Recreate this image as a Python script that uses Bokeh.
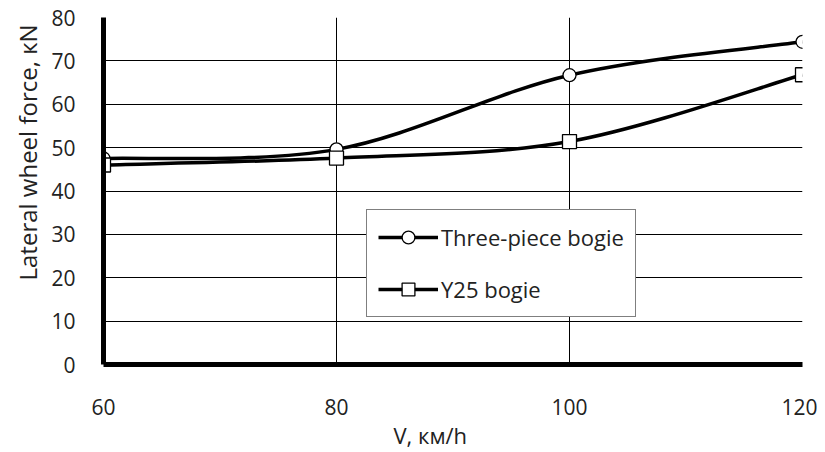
from bokeh.plotting import figure
from bokeh.models import Range1d, Legend, LegendItem, FixedTicker, Title
from bokeh.embed import file_html
from bokeh.resources import INLINE

speed = [60, 80, 100, 120]
three_piece = [47.5, 49.6, 66.7, 74.4]
y25 = [46.0, 47.6, 51.4, 66.8]
x_ticks = [60, 80, 100, 120]
y_ticks = [0, 10, 20, 30, 40, 50, 60, 70, 80]

FONT = "Open Sans"
TXT = "#222222"

p = figure(width=817, height=452, output_backend="svg", toolbar_location=None,
           x_range=Range1d(60, 120), y_range=Range1d(0, 80),
           min_border_left=103, min_border_right=15, min_border_top=17, min_border_bottom=88)
p.outline_line_color = None
p.background_fill_color = "white"
p.border_fill_color = "white"


def bezier_params(xs, ys):
    n = len(xs)
    out = {k: [] for k in ("x0", "y0", "x1", "y1", "cx0", "cy0", "cx1", "cy1")}
    for i in range(n - 1):
        i0 = max(i - 1, 0)
        i3 = min(i + 2, n - 1)
        out["x0"].append(xs[i]); out["y0"].append(ys[i])
        out["x1"].append(xs[i + 1]); out["y1"].append(ys[i + 1])
        out["cx0"].append(xs[i] + (xs[i + 1] - xs[i0]) / 6)
        out["cy0"].append(ys[i] + (ys[i + 1] - ys[i0]) / 6)
        out["cx1"].append(xs[i + 1] - (xs[i3] - xs[i]) / 6)
        out["cy1"].append(ys[i + 1] - (ys[i3] - ys[i]) / 6)
    return out


b1 = bezier_params(speed, three_piece)
b2 = bezier_params(speed, y25)
p.bezier(**b1, line_color="black", line_width=3.5)
p.bezier(**b2, line_color="black", line_width=3.5)

s1 = p.scatter(speed, three_piece, marker="circle", size=13, fill_color="white",
               line_color="black", line_width=1.3)
s2 = p.scatter(speed, y25, marker="square", size=14, fill_color="white",
               line_color="black", line_width=1.3)

# legend proxies (visible line + marker)
lg1 = p.line([None], [None], line_color="black", line_width=3.5)
lg2 = p.line([None], [None], line_color="black", line_width=3.5)

legend = Legend(items=[
    LegendItem(label="Three-piece bogie", renderers=[lg1, s1]),
    LegendItem(label="Y25 bogie", renderers=[lg2, s2]),
], location=(263, 47))
legend.border_line_color = "black"
legend.border_line_width = 1.2
legend.background_fill_color = "white"
legend.background_fill_alpha = 1
legend.padding = 11
legend.margin = 0
legend.label_height = 32
legend.spacing = 20
legend.glyph_width = 60
legend.glyph_height = 32
legend.label_standoff = 3
legend.label_text_font = FONT
legend.label_text_font_size = "22px"
legend.label_text_color = TXT
p.add_layout(legend, "center")

p.xaxis.ticker = FixedTicker(ticks=x_ticks)
p.yaxis.ticker = FixedTicker(ticks=y_ticks)
for ax in (p.xaxis[0], p.yaxis[0]):
    ax.axis_line_width = 5
    ax.axis_line_color = "black"
    ax.major_tick_line_color = None
    ax.minor_tick_line_color = None
    ax.major_label_text_font = FONT
    ax.major_label_text_font_size = "21px"
    ax.major_label_text_color = TXT

p.xaxis.major_label_standoff = 28
p.yaxis.major_label_standoff = 22

# axis titles, placed where the reference puts them
p.add_layout(Title(text="V, км/h", align="left", offset=290, standoff=0,
                   text_font=FONT, text_font_size="22px", text_font_style="normal",
                   text_color=TXT), "below")
p.add_layout(Title(text="Lateral wheel force, кN", align="left", offset=84, standoff=10,
                   text_font=FONT, text_font_size="24px", text_font_style="normal",
                   text_color=TXT), "left")

p.xgrid.ticker = FixedTicker(ticks=x_ticks)
p.ygrid.ticker = FixedTicker(ticks=y_ticks)
p.xgrid.grid_line_color = "black"
p.ygrid.grid_line_color = "black"
p.xgrid.grid_line_width = 1
p.ygrid.grid_line_width = 1

open("out.html", "w").write(file_html(p, INLINE))
